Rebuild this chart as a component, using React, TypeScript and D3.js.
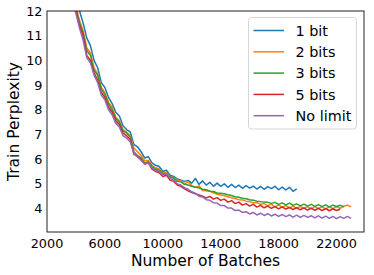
import React, { useEffect, useRef } from 'react';
import * as d3 from 'd3';

// Training curves sampled every 250 batches, starting at batch 3750
const BATCH_START = 3750;
const BATCH_STEP = 250;

const bit1 = [
  13.0, 12.4, 12.0, 11.5, 10.9, 10.6, 10.0, 9.7, 9.1, 8.9, 8.5, 8.25, 7.9, 7.75, 7.35, 7.2,
  7.1, 6.6, 6.5, 6.3, 6.05, 6.1, 5.85, 5.75, 5.7, 5.5, 5.55, 5.35, 5.3, 5.2, 5.15, 5.1,
  5.14, 5.03, 5.22, 4.98, 5.12, 4.95, 5.06, 4.9, 5.03, 4.9, 5.0, 4.86, 4.98, 4.85, 4.95, 4.82,
  4.93, 4.83, 4.91, 4.79, 4.9, 4.78, 4.89, 4.81, 4.9, 4.76, 4.87, 4.75, 4.86, 4.7, 4.8,
];

const bits2 = [
  12.7, 12.2, 11.6, 11.2, 10.5, 10.3, 9.7, 9.45, 8.9, 8.7, 8.3, 8.1, 7.7, 7.55, 7.2, 7.1,
  6.95, 6.45, 6.3, 6.15, 5.95, 5.95, 5.75, 5.65, 5.6, 5.45, 5.45, 5.3, 5.25, 5.15, 5.12, 5.0,
  5.08, 4.93, 4.86, 4.92, 4.73, 4.72, 4.7, 4.64, 4.58, 4.55, 4.52, 4.48, 4.44, 4.41, 4.36, 4.35,
  4.3, 4.29, 4.23, 4.24, 4.17, 4.2, 4.12, 4.18, 4.07, 4.15, 4.05, 4.13, 4.02, 4.1, 4.0, 4.09,
  4.01, 4.08, 3.99, 4.08, 4.0, 4.07, 3.99, 4.06, 4.0, 4.08, 4.01, 4.09, 4.14, 4.07,
];

const bits3 = [
  12.6, 12.1, 11.5, 11.1, 10.4, 10.2, 9.6, 9.4, 8.85, 8.6, 8.25, 8.0, 7.65, 7.5, 7.15, 7.05,
  6.9, 6.3, 6.15, 6.05, 5.85, 5.9, 5.7, 5.6, 5.55, 5.42, 5.4, 5.28, 5.22, 5.1, 5.08, 4.98,
  4.95, 4.9, 4.86, 4.84, 4.78, 4.76, 4.7, 4.69, 4.63, 4.62, 4.6, 4.56, 4.53, 4.48, 4.46, 4.42,
  4.4, 4.36, 4.34, 4.3, 4.28, 4.26, 4.25, 4.21, 4.25, 4.17, 4.23, 4.15, 4.22, 4.13, 4.19, 4.11,
  4.18, 4.1, 4.17, 4.09, 4.16, 4.08, 4.15, 4.07, 4.14, 4.08, 4.13, 4.07,
];

const bits5 = [
  12.5, 12.0, 11.4, 11.0, 10.2, 10.0, 9.5, 9.2, 8.7, 8.5, 8.1, 7.9, 7.55, 7.4, 7.05, 6.95,
  6.8, 6.2, 6.1, 6.0, 5.8, 5.85, 5.6, 5.5, 5.45, 5.3, 5.35, 5.15, 5.1, 4.95, 4.9, 4.8,
  4.72, 4.65, 4.6, 4.55, 4.5, 4.43, 4.49, 4.38, 4.44, 4.33, 4.38, 4.26, 4.32, 4.2, 4.26, 4.14,
  4.2, 4.1, 4.17, 4.06, 4.13, 4.03, 4.1, 4.01, 4.08, 3.99, 4.07, 3.98, 4.05, 3.96, 4.04, 3.95,
  4.03, 3.94, 4.02, 3.93, 4.01, 3.92, 4.0, 3.91, 3.99, 3.92, 3.97,
];

const noLimit = [
  12.4, 11.9, 11.3, 10.8, 10.1, 9.9, 9.4, 9.1, 8.6, 8.4, 8.0, 7.8, 7.45, 7.3, 6.95, 6.85,
  6.7, 6.25, 6.1, 5.95, 5.8, 5.85, 5.65, 5.55, 5.5, 5.38, 5.4, 5.22, 5.15, 5.0, 4.95, 4.85,
  4.78, 4.68, 4.62, 4.5, 4.47, 4.36, 4.34, 4.23, 4.22, 4.12, 4.12, 4.02, 4.02, 3.92, 3.94, 3.84,
  3.87, 3.78, 3.84, 3.74, 3.81, 3.72, 3.79, 3.7, 3.77, 3.68, 3.76, 3.67, 3.74, 3.65, 3.73, 3.64,
  3.72, 3.64, 3.71, 3.62, 3.7, 3.61, 3.69, 3.6, 3.68, 3.59, 3.67, 3.6, 3.68, 3.6,
];

const seriesNames = ['1 bit', '2 bits', '3 bits', '5 bits', 'No limit'];
const seriesValues = [bit1, bits2, bits3, bits5, noLimit];
const seriesColors = ['#1f77b4', '#ff7f0e', '#2ca02c', '#d62728', '#9467bd'];

const xTicks = [2000, 6000, 10000, 14000, 18000, 22000];
const yTicks = [4, 5, 6, 7, 8, 9, 10, 11, 12];

const App = () => {
  const svgRef = useRef<SVGSVGElement>(null);

  useEffect(() => {
    const svg = d3.select(svgRef.current);
    svg.selectAll('*').remove();

    const width = 374;
    const height = 275;
    const m = { left: 47, right: 364, top: 11, bottom: 232 };
    const font = 'DejaVu Sans, sans-serif';

    const x = d3.scaleLinear().domain([2000, 23900]).range([m.left, m.right]);
    const y = d3.scaleLinear().domain([3.05, 12]).range([m.bottom, m.top]);

    svg.attr('width', width).attr('height', height).style('font-family', font);

    svg
      .append('defs')
      .append('clipPath')
      .attr('id', 'plot-clip')
      .append('rect')
      .attr('x', m.left)
      .attr('y', m.top)
      .attr('width', m.right - m.left)
      .attr('height', m.bottom - m.top);

    // ── Lines ──────────────────────────────────────────────────────────
    const line = d3
      .line<number>()
      .x((_d, i) => x(BATCH_START + i * BATCH_STEP))
      .y((d) => y(d));

    svg
      .append('g')
      .attr('clip-path', 'url(#plot-clip)')
      .selectAll('path')
      .data(seriesValues)
      .join('path')
      .attr('fill', 'none')
      .attr('stroke', (_d, i) => seriesColors[i])
      .attr('stroke-width', 1.5)
      .attr('stroke-linejoin', 'round')
      .attr('d', (d) => line(d));

    // ── Frame ──────────────────────────────────────────────────────────
    svg
      .append('rect')
      .attr('x', m.left)
      .attr('y', m.top)
      .attr('width', m.right - m.left)
      .attr('height', m.bottom - m.top)
      .attr('fill', 'none')
      .attr('stroke', '#222')
      .attr('stroke-width', 1);

    // ── Tick labels ────────────────────────────────────────────────────
    svg
      .append('g')
      .selectAll('text')
      .data(xTicks)
      .join('text')
      .attr('x', (d) => x(d))
      .attr('y', 247.5)
      .attr('text-anchor', 'middle')
      .style('font-size', '12.8px')
      .text((d) => d);

    svg
      .append('g')
      .selectAll('text')
      .data(yTicks)
      .join('text')
      .attr('x', 42.5)
      .attr('y', (d) => y(d))
      .attr('dy', '0.36em')
      .attr('text-anchor', 'end')
      .style('font-size', '12.8px')
      .text((d) => d);

    // ── Axis titles ────────────────────────────────────────────────────
    svg
      .append('text')
      .attr('x', (m.left + m.right) / 2)
      .attr('y', 266)
      .attr('text-anchor', 'middle')
      .style('font-size', '15.5px')
      .text('Number of Batches');

    svg
      .append('text')
      .attr('transform', `translate(18.5,${(m.top + m.bottom) / 2}) rotate(-90)`)
      .attr('text-anchor', 'middle')
      .style('font-size', '15.5px')
      .text('Train Perplexity');

    // ── Legend ─────────────────────────────────────────────────────────
    const legend = svg.append('g');
    legend
      .append('rect')
      .attr('x', 248.5)
      .attr('y', 17.5)
      .attr('width', 108)
      .attr('height', 111.5)
      .attr('rx', 3)
      .attr('fill', 'white')
      .attr('fill-opacity', 0.8)
      .attr('stroke', '#d6d6d6')
      .attr('stroke-width', 1);

    const item = legend
      .selectAll('g.item')
      .data(seriesNames)
      .join('g')
      .attr('class', 'item')
      .attr('transform', (_d, i) => `translate(0,${30.5 + i * 21.3})`);

    item
      .append('line')
      .attr('x1', 253.5)
      .attr('x2', 284)
      .attr('stroke', (_d, i) => seriesColors[i])
      .attr('stroke-width', 1.5);

    item
      .append('text')
      .attr('x', 295.5)
      .attr('dy', '0.36em')
      .style('font-size', '14.4px')
      .text((d) => d);
  }, []);

  return <svg ref={svgRef} style={{ position: 'absolute', left: 0, top: 0 }} />;
};

export default App;
